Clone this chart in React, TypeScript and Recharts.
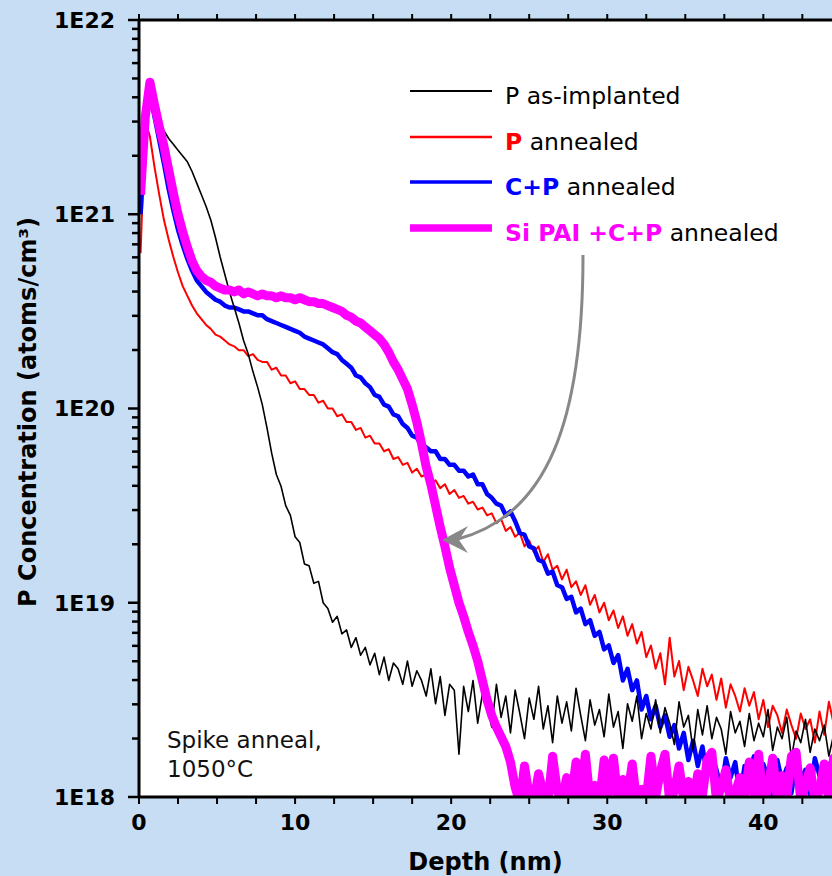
import React from "react";
import { LineChart, Line, XAxis, YAxis, CartesianGrid, Label } from "recharts";

const FONT = "'DejaVu Sans', Verdana, sans-serif";

// SIMS depth samples (nm)
const depth = [
  0.1, 0.4, 0.7, 1.0, 1.3, 1.6, 1.9, 2.2, 2.5, 2.8,
  3.1, 3.4, 3.7, 4.0, 4.3, 4.6, 4.9, 5.2, 5.5, 5.8,
  6.1, 6.4, 6.7, 7.0, 7.3, 7.6, 7.9, 8.2, 8.5, 8.8,
  9.1, 9.4, 9.7, 10.0, 10.3, 10.6, 10.9, 11.2, 11.5, 11.8,
  12.1, 12.4, 12.7, 13.0, 13.3, 13.6, 13.9, 14.2, 14.5, 14.8,
  15.1, 15.4, 15.7, 16.0, 16.3, 16.6, 16.9, 17.2, 17.5, 17.8,
  18.1, 18.4, 18.7, 19.0, 19.3, 19.6, 19.9, 20.2, 20.5, 20.8,
  21.1, 21.4, 21.7, 22.0, 22.3, 22.6, 22.9, 23.2, 23.5, 23.8,
  24.1, 24.4, 24.7, 25.0, 25.3, 25.6, 25.9, 26.2, 26.5, 26.8,
  27.1, 27.4, 27.7, 28.0, 28.3, 28.6, 28.9, 29.2, 29.5, 29.8,
  30.1, 30.4, 30.7, 31.0, 31.3, 31.6, 31.9, 32.2, 32.5, 32.8,
  33.1, 33.4, 33.7, 34.0, 34.3, 34.6, 34.9, 35.2, 35.5, 35.8,
  36.1, 36.4, 36.7, 37.0, 37.3, 37.6, 37.9, 38.2, 38.5, 38.8,
  39.1, 39.4, 39.7, 40.0, 40.3, 40.6, 40.9, 41.2, 41.5, 41.8,
  42.1, 42.4, 42.7, 43.0, 43.3, 43.6, 43.9, 44.2, 44.5, 44.8,
];

// log10 of P concentration (atoms/cm3) at each depth
const asImplanted = [
  21.12, 21.48, 21.55, 21.52, 21.47, 21.43, 21.39, 21.36, 21.33, 21.30,
  21.27, 21.22, 21.16, 21.10, 21.04, 20.97, 20.88, 20.78, 20.69, 20.60,
  20.52, 20.44, 20.35, 20.28, 20.19, 20.11, 20.02, 19.90, 19.77, 19.66,
  19.60, 19.50, 19.45, 19.34, 19.31, 19.20, 19.19, 19.10, 19.11, 19.00,
  18.97, 18.90, 18.93, 18.84, 18.86, 18.77, 18.82, 18.73, 18.77, 18.68,
  18.74, 18.63, 18.72, 18.60, 18.69, 18.66, 18.58, 18.70, 18.57, 18.65,
  18.60, 18.52, 18.66, 18.48, 18.62, 18.42, 18.58, 18.55, 18.22, 18.57,
  18.44, 18.60, 18.38, 18.53, 18.47, 18.36, 18.58, 18.41, 18.52, 18.33,
  18.55, 18.43, 18.30, 18.51, 18.40, 18.57, 18.35, 18.47, 18.28, 18.52,
  18.38, 18.49, 18.34, 18.56, 18.42, 18.29, 18.50, 18.37, 18.45, 18.31,
  18.53, 18.36, 18.44, 18.25, 18.48, 18.39, 18.52, 18.30, 18.43, 18.35,
  18.50, 18.33, 18.46, 18.38, 18.27, 18.49, 18.36, 18.42, 18.24, 18.45,
  18.32, 18.47, 18.30, 18.41, 18.35, 18.22, 18.44, 18.33, 18.39, 18.26,
  18.43, 18.29, 18.38, 18.31, 18.45, 18.24, 18.36, 18.30, 18.41, 18.20,
  18.34, 18.28, 18.40, 18.23, 18.35, 18.29, 18.37, 18.21, 18.32, 18.27,
];

const pAnnealed = [
  20.80, 21.48, 21.40, 21.24, 21.10, 20.97, 20.87, 20.78, 20.70, 20.63,
  20.58, 20.53, 20.49, 20.46, 20.43, 20.41, 20.38, 20.37, 20.35, 20.33,
  20.32, 20.30, 20.30, 20.27, 20.28, 20.25, 20.24, 20.24, 20.20, 20.21,
  20.17, 20.17, 20.13, 20.14, 20.10, 20.10, 20.07, 20.07, 20.03, 20.04,
  20.00, 20.00, 19.96, 19.97, 19.93, 19.93, 19.89, 19.90, 19.85, 19.86,
  19.82, 19.82, 19.78, 19.79, 19.74, 19.75, 19.71, 19.72, 19.67, 19.69,
  19.65, 19.66, 19.62, 19.63, 19.59, 19.61, 19.56, 19.58, 19.54, 19.55,
  19.51, 19.52, 19.48, 19.49, 19.45, 19.46, 19.41, 19.43, 19.37, 19.39,
  19.34, 19.36, 19.29, 19.32, 19.26, 19.29, 19.21, 19.25, 19.17, 19.19,
  19.12, 19.17, 19.08, 19.11, 19.04, 19.09, 18.99, 19.04, 18.95, 19.00,
  18.91, 18.96, 18.87, 18.93, 18.83, 18.89, 18.79, 18.85, 18.72, 18.78,
  18.66, 18.74, 18.58, 18.82, 18.62, 18.70, 18.55, 18.67, 18.60, 18.52,
  18.66, 18.57, 18.63, 18.50, 18.61, 18.46, 18.58, 18.52, 18.44, 18.56,
  18.47, 18.54, 18.40, 18.50, 18.36, 18.47, 18.42, 18.33, 18.45, 18.37,
  18.30, 18.43, 18.35, 18.40, 18.28, 18.44, 18.32, 18.49, 18.38, 18.42,
];

const cpAnnealed = [
  21.00, 21.45, 21.62, 21.50, 21.38, 21.26, 21.13, 21.02, 20.92, 20.84,
  20.77, 20.71, 20.66, 20.63, 20.60, 20.58, 20.56, 20.55, 20.53, 20.52,
  20.52, 20.51, 20.50, 20.50, 20.49, 20.48, 20.48, 20.46, 20.45, 20.44,
  20.43, 20.42, 20.41, 20.40, 20.39, 20.37, 20.36, 20.35, 20.34, 20.33,
  20.31, 20.29, 20.28, 20.25, 20.23, 20.21, 20.17, 20.16, 20.13, 20.11,
  20.07, 20.06, 20.02, 20.01, 19.97, 19.96, 19.92, 19.90, 19.86, 19.85,
  19.81, 19.80, 19.78, 19.78, 19.74, 19.74, 19.71, 19.71, 19.68, 19.68,
  19.65, 19.66, 19.61, 19.61, 19.56, 19.54, 19.51, 19.50, 19.45, 19.47,
  19.42, 19.36, 19.35, 19.29, 19.28, 19.22, 19.21, 19.15, 19.16, 19.09,
  19.08, 19.02, 19.03, 18.95, 18.97, 18.89, 18.91, 18.83, 18.85, 18.76,
  18.78, 18.69, 18.73, 18.60, 18.66, 18.55, 18.60, 18.45, 18.52, 18.40,
  18.47, 18.36, 18.42, 18.31, 18.37, 18.25, 18.33, 18.19, 18.29, 18.16,
  18.26, 18.11, 18.22, 18.14, 18.04, 18.20, 18.10, 18.18, 18.00, 18.16,
  18.12, 18.21, 18.05, 18.17, 18.10, 17.98, 18.19, 18.08, 18.15, 18.02,
  18.18, 18.09, 18.14, 18.00, 18.20, 18.11, 18.06, 18.17, 18.03, 18.13,
];

const paiAnnealed = [
  21.10, 21.50, 21.68, 21.56, 21.45, 21.35, 21.23, 21.11, 21.00, 20.91,
  20.83, 20.76, 20.71, 20.68, 20.66, 20.65, 20.63, 20.62, 20.61, 20.61,
  20.60, 20.61, 20.59, 20.60, 20.59, 20.58, 20.59, 20.58, 20.58, 20.57,
  20.58, 20.57, 20.57, 20.56, 20.57, 20.56, 20.55, 20.55, 20.54, 20.54,
  20.53, 20.52, 20.51, 20.50, 20.48, 20.47, 20.45, 20.44, 20.42, 20.40,
  20.38, 20.36, 20.33, 20.29, 20.24, 20.20, 20.15, 20.10, 20.02, 19.93,
  19.82, 19.70, 19.61, 19.50, 19.39, 19.29, 19.18, 19.09, 19.00, 18.93,
  18.85, 18.78, 18.70, 18.60, 18.50, 18.42, 18.36, 18.31, 18.26, 18.18,
  18.05, 17.97, 18.16, 18.00, 17.98, 18.12, 18.02, 17.97, 18.21, 18.03,
  17.98, 18.10, 17.99, 18.18, 18.01, 18.22, 17.98, 18.06, 17.97, 18.19,
  18.02, 18.20, 17.98, 18.09, 18.00, 18.17, 17.97, 18.04, 17.99, 18.21,
  18.00, 18.13, 18.22, 17.98, 18.03, 18.16, 17.99, 18.08, 17.97, 18.12,
  18.01, 18.19, 18.23, 17.98, 18.05, 18.14, 17.97, 18.02, 18.10, 17.99,
  18.18, 18.02, 18.22, 17.97, 18.04, 18.20, 17.99, 18.11, 18.00, 18.21,
  18.23, 17.98, 18.06, 18.15, 17.99, 18.03, 18.17, 17.98, 18.20, 18.10,
];

const xTicks = [0, 2.5, 5, 7.5, 10, 12.5, 15, 17.5, 20, 22.5, 25, 27.5, 30, 32.5, 35, 37.5, 40, 42.5];
const xLabels = [0, 10, 20, 30, 40];
const decades = [18, 19, 20, 21, 22];
const minorSteps = [2, 3, 4, 5, 6, 7, 8, 9];

const yTicks: number[] = [];
decades.forEach((p) => {
  yTicks.push(10 ** p);
  if (p < 22) minorSteps.forEach((m) => yTicks.push(m * 10 ** p));
});

const rows = depth.map((d, i) => ({
  depth: d,
  asImpl: 10 ** asImplanted[i],
  pAnn: 10 ** pAnnealed[i],
  cpAnn: 10 ** cpAnnealed[i],
  paiAnn: 10 ** paiAnnealed[i],
}));

function LogTick(props: any) {
  const { x, y, payload } = props;
  const exp = Math.log10(payload.value);
  const major = Math.abs(exp - Math.round(exp)) < 1e-6;
  return (
    <g>
      <line x1={x - (major ? 11 : 7)} x2={x} y1={y} y2={y} stroke="#000" strokeWidth={2.5} />
      {major && (
        <text
          x={x - 24}
          y={y}
          dy="0.36em"
          textAnchor="end"
          fill="#000"
          fontSize={22}
          fontWeight={700}
          fontFamily={FONT}
        >
          1E{Math.round(exp)}
        </text>
      )}
    </g>
  );
}

// short outward marks along the top frame
function TopTick(props: any) {
  const { x } = props;
  return <line x1={x} x2={x} y1={20} y2={14} stroke="#000" strokeWidth={2} />;
}

function YTitle() {
  return (
    <text
      x={28}
      y={412}
      transform="rotate(-90 28 412)"
      textAnchor="middle"
      dominantBaseline="central"
      fill="#000"
      fontSize={24}
      fontWeight={700}
      fontFamily={FONT}
    >
      P Concentration (atoms/cm³)
    </text>
  );
}

const legendRows = [
  { y: 91, color: "#000", width: 2, bold: "", rest: "P as-implanted" },
  { y: 137, color: "#ff0000", width: 2.5, bold: "P", rest: " annealed" },
  { y: 182, color: "#0000ff", width: 3.5, bold: "C+P", rest: " annealed" },
  { y: 228, color: "#ff00ff", width: 7.5, bold: "Si PAI +C+P", rest: " annealed" },
];

export default function App() {
  return (
    <div
      style={{
        position: "absolute",
        left: 0,
        top: 0,
        width: 832,
        height: 876,
        background: "#c6ddf3",
        overflow: "hidden",
      }}
    >
      <LineChart width={832} height={876} data={rows} margin={{ top: 19, right: 0, bottom: 0, left: 0 }}>
        <CartesianGrid fill="#fff" horizontal={false} vertical={false} />
        <XAxis
          dataKey="depth"
          type="number"
          domain={[0, 44.4]}
          ticks={xTicks}
          interval={0}
          allowDataOverflow
          height={79}
          axisLine={{ stroke: "#000", strokeWidth: 3 }}
          tickLine={{ stroke: "#000", strokeWidth: 2 }}
          tickSize={7}
          tickMargin={10}
          tick={{ fill: "#000", fontSize: 22, fontWeight: 700, fontFamily: FONT }}
          tickFormatter={(v: number) => (xLabels.includes(v) ? String(v) : "")}
        >
          <Label
            value="Depth (nm)"
            position="insideBottom"
            offset={6}
            style={{ fill: "#000", fontSize: 24, fontWeight: 700, fontFamily: FONT }}
          />
        </XAxis>
        <XAxis
          xAxisId="top"
          dataKey="depth"
          orientation="top"
          type="number"
          domain={[0, 44.4]}
          ticks={xTicks}
          interval={0}
          allowDataOverflow
          height={1}
          tickLine={false}
          tickSize={0}
          tick={(p: any) => <TopTick {...p} />}
          axisLine={{ stroke: "#000", strokeWidth: 3 }}
        />
        <YAxis
          scale="log"
          domain={[1e18, 1e22]}
          ticks={yTicks}
          interval={0}
          allowDataOverflow
          width={139}
          axisLine={{ stroke: "#000", strokeWidth: 3 }}
          tickLine={false}
          tickSize={0}
          tickMargin={0}
          tick={(p: any) => <LogTick {...p} />}
        >
          <Label content={() => <YTitle />} />
        </YAxis>
        <Line dataKey="pAnn" stroke="#ff0000" strokeWidth={2} dot={false} isAnimationActive={false} strokeLinejoin="round" />
        <Line dataKey="cpAnn" stroke="#0000ff" strokeWidth={4.5} dot={false} isAnimationActive={false} strokeLinejoin="round" />
        <Line dataKey="asImpl" stroke="#000" strokeWidth={1.6} dot={false} isAnimationActive={false} strokeLinejoin="round" />
        <Line dataKey="paiAnn" stroke="#ff00ff" strokeWidth={9} dot={false} isAnimationActive={false} strokeLinejoin="round" />
      </LineChart>
      <svg
        width={832}
        height={876}
        style={{ position: "absolute", left: 0, top: 0, pointerEvents: "none" }}
      >
        {legendRows.map((r) => (
          <g key={r.y}>
            <line x1={410} x2={492} y1={r.y} y2={r.y} stroke={r.color} strokeWidth={r.width} />
            <text x={505} y={r.y + 13} fontSize={23.5} fontFamily={FONT} fill="#000">
              {r.bold && (
                <tspan fill={r.color} fontWeight={700}>
                  {r.bold}
                </tspan>
              )}
              <tspan>{r.rest}</tspan>
            </text>
          </g>
        ))}
        <path d="M583,255 C583,420 548,515 458,539" stroke="#888" strokeWidth={3} fill="none" />
        <polygon points="442,540 468,526 459,540 468,553" fill="#888" />
        <text x={167} y={748} fontSize={23} fontFamily={FONT} fill="#111">
          Spike anneal,
        </text>
        <text x={167} y={777} fontSize={23} fontFamily={FONT} fill="#111">
          1050°C
        </text>
      </svg>
    </div>
  );
}
